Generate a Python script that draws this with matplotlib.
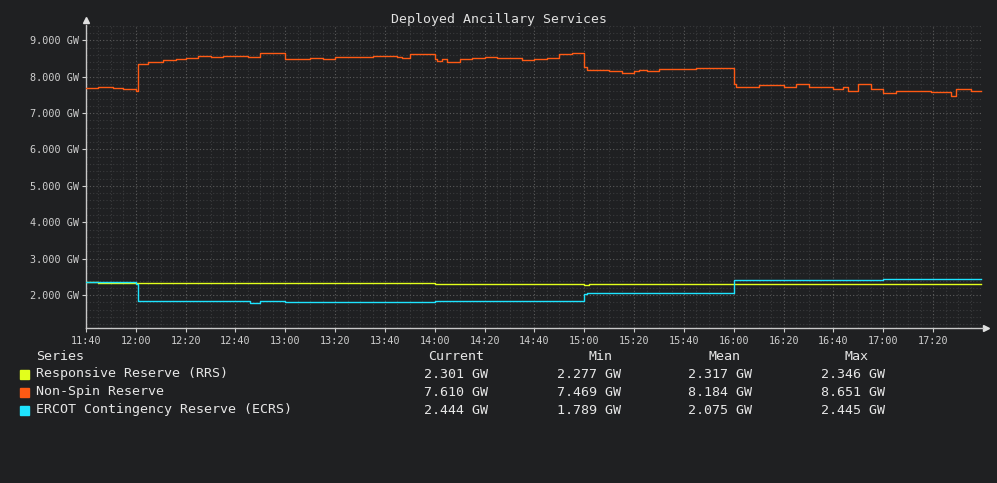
import pandas as pd
import matplotlib
matplotlib.use("Agg")
import matplotlib.pyplot as plt
import matplotlib.dates as mdates
from matplotlib.ticker import MultipleLocator, FuncFormatter
from matplotlib.patches import Rectangle

# --- data (step changes, HH:MM -> GW) ---
rrs_times = ["11:40", "11:45", "14:00", "15:00", "15:02", "17:39"]
rrs_values = [2.346, 2.333, 2.301, 2.277, 2.301, 2.301]

nsr_times = ["11:40", "11:45", "11:51", "11:55", "12:00", "12:01", "12:05", "12:11",
             "12:16", "12:20", "12:25", "12:30", "12:35", "12:45", "12:50", "13:00",
             "13:10", "13:15", "13:20", "13:35", "13:45", "13:47", "13:50", "13:55",
             "14:00", "14:01", "14:03", "14:05", "14:10", "14:15", "14:20", "14:25",
             "14:35", "14:40", "14:45", "14:50", "14:55", "15:00", "15:01", "15:10",
             "15:15", "15:20", "15:22", "15:25", "15:30", "15:45", "16:00", "16:01",
             "16:10", "16:20", "16:25", "16:30", "16:40", "16:44", "16:46", "16:50",
             "16:55", "17:00", "17:05", "17:19", "17:27", "17:29", "17:35", "17:39"]
nsr_values = [7.68, 7.72, 7.69, 7.66, 7.60, 8.36, 8.41, 8.47,
              8.49, 8.52, 8.56, 8.53, 8.56, 8.53, 8.651, 8.49,
              8.51, 8.49, 8.53, 8.57, 8.53, 8.51, 8.61, 8.63,
              8.49, 8.43, 8.48, 8.41, 8.49, 8.51, 8.53, 8.51,
              8.47, 8.49, 8.51, 8.61, 8.645, 8.27, 8.19, 8.16,
              8.11, 8.16, 8.19, 8.16, 8.22, 8.24, 7.80, 7.73,
              7.76, 7.73, 7.81, 7.73, 7.67, 7.73, 7.62, 7.79,
              7.65, 7.54, 7.60, 7.57, 7.469, 7.65, 7.61, 7.61]

ecrs_times = ["11:40", "12:00", "12:01", "12:46", "12:50", "13:00", "14:00",
              "15:00", "15:01", "16:00", "17:00", "17:39"]
ecrs_values = [2.36, 2.30, 1.84, 1.789, 1.84, 1.81, 1.85,
               2.02, 2.07, 2.41, 2.444, 2.444]

series_names = ["Responsive Reserve (RRS)", "Non-Spin Reserve", "ERCOT Contingency Reserve (ECRS)"]
series_colors = ["#e2ff1c", "#ff5a14", "#1ee4ff"]
stat_headers = ["Current", "Min", "Mean", "Max"]
stat_current = ["2.301 GW", "7.610 GW", "2.444 GW"]
stat_min = ["2.277 GW", "7.469 GW", "1.789 GW"]
stat_mean = ["2.317 GW", "8.184 GW", "2.075 GW"]
stat_max = ["2.346 GW", "8.651 GW", "2.445 GW"]


def to_dt(times):
    return pd.to_datetime(["2024-01-01 " + t for t in times])


BG = "#1f2022"
W, H = 997, 483
plt.rcParams["font.family"] = ["DejaVu Sans Mono"]

fig = plt.figure(figsize=(W / 100, H / 100), dpi=100, facecolor=BG)
ax = fig.add_axes([86 / W, (H - 328) / H, 896.5 / W, 303 / H], facecolor=BG)

for times, vals, col in [(rrs_times, rrs_values, series_colors[0]),
                         (nsr_times, nsr_values, series_colors[1]),
                         (ecrs_times, ecrs_values, series_colors[2])]:
    ax.plot(to_dt(times), vals, color=col, lw=1.0, drawstyle="steps-post", zorder=3)

ax.set_xlim(pd.Timestamp("2024-01-01 11:40"), pd.Timestamp("2024-01-01 17:39:48"))
ax.set_ylim(1.096, 9.42)

ax.xaxis.set_major_locator(mdates.MinuteLocator(byminute=[0, 20, 40]))
ax.xaxis.set_minor_locator(mdates.MinuteLocator(byminute=range(0, 60, 5)))
ax.xaxis.set_major_formatter(mdates.DateFormatter("%H:%M"))
ax.yaxis.set_major_locator(MultipleLocator(1))
ax.yaxis.set_minor_locator(MultipleLocator(0.2))
ax.yaxis.set_major_formatter(FuncFormatter(lambda v, p: f"{v:.3f} GW"))

ax.grid(which="major", color="#5c5c5c", lw=0.8, linestyle=(0, (1, 2)))
ax.grid(which="minor", color="#3a3b3d", lw=0.8, linestyle=(0, (1, 2)))

ax.tick_params(which="major", colors="#cfcfcf", labelsize=7.3, length=3, width=0.8)
ax.tick_params(which="minor", length=0)
ax.tick_params(axis="y", pad=2)
ax.tick_params(axis="x", pad=3)

for s in ["top", "right"]:
    ax.spines[s].set_visible(False)
for s in ["left", "bottom"]:
    ax.spines[s].set_color("#c8c8c8")
    ax.spines[s].set_linewidth(1.0)

# axis arrows
ax.plot([0], [1.015], marker="^", ms=4, color="#e0e0e0", transform=ax.transAxes, clip_on=False)
ax.plot([1.004], [0], marker=">", ms=4, color="#e0e0e0", transform=ax.transAxes, clip_on=False)

fig.text(0.5, 1 - 19 / H, "Deployed Ancillary Services", ha="center", va="center",
         color="#e0e0e0", fontsize=9.5)

# legend table
def fx(px):
    return px / W


def fy(py):
    return 1 - py / H


txt = "#e6e6e6"
fig.text(fx(36), fy(356), "Series", ha="left", va="center", color=txt, fontsize=9.6)
for hx, head in zip([428, 588, 708, 844], stat_headers):
    fig.text(fx(hx), fy(356), head, ha="left", va="center", color=txt, fontsize=9.6)

row_y = [374, 392, 410]
for i in range(3):
    fig.patches.append(Rectangle((fx(20), fy(row_y[i] + 4.5)), 9 / W, 9 / H,
                                 transform=fig.transFigure, color=series_colors[i]))
    fig.text(fx(36), fy(row_y[i]), series_names[i], ha="left", va="center", color=txt, fontsize=9.6)
    for vx, col in zip([424, 557, 688, 821], [stat_current, stat_min, stat_mean, stat_max]):
        fig.text(fx(vx), fy(row_y[i]), col[i], ha="left", va="center", color=txt, fontsize=9.6)

fig.savefig("out.png", dpi=100, facecolor=BG)
